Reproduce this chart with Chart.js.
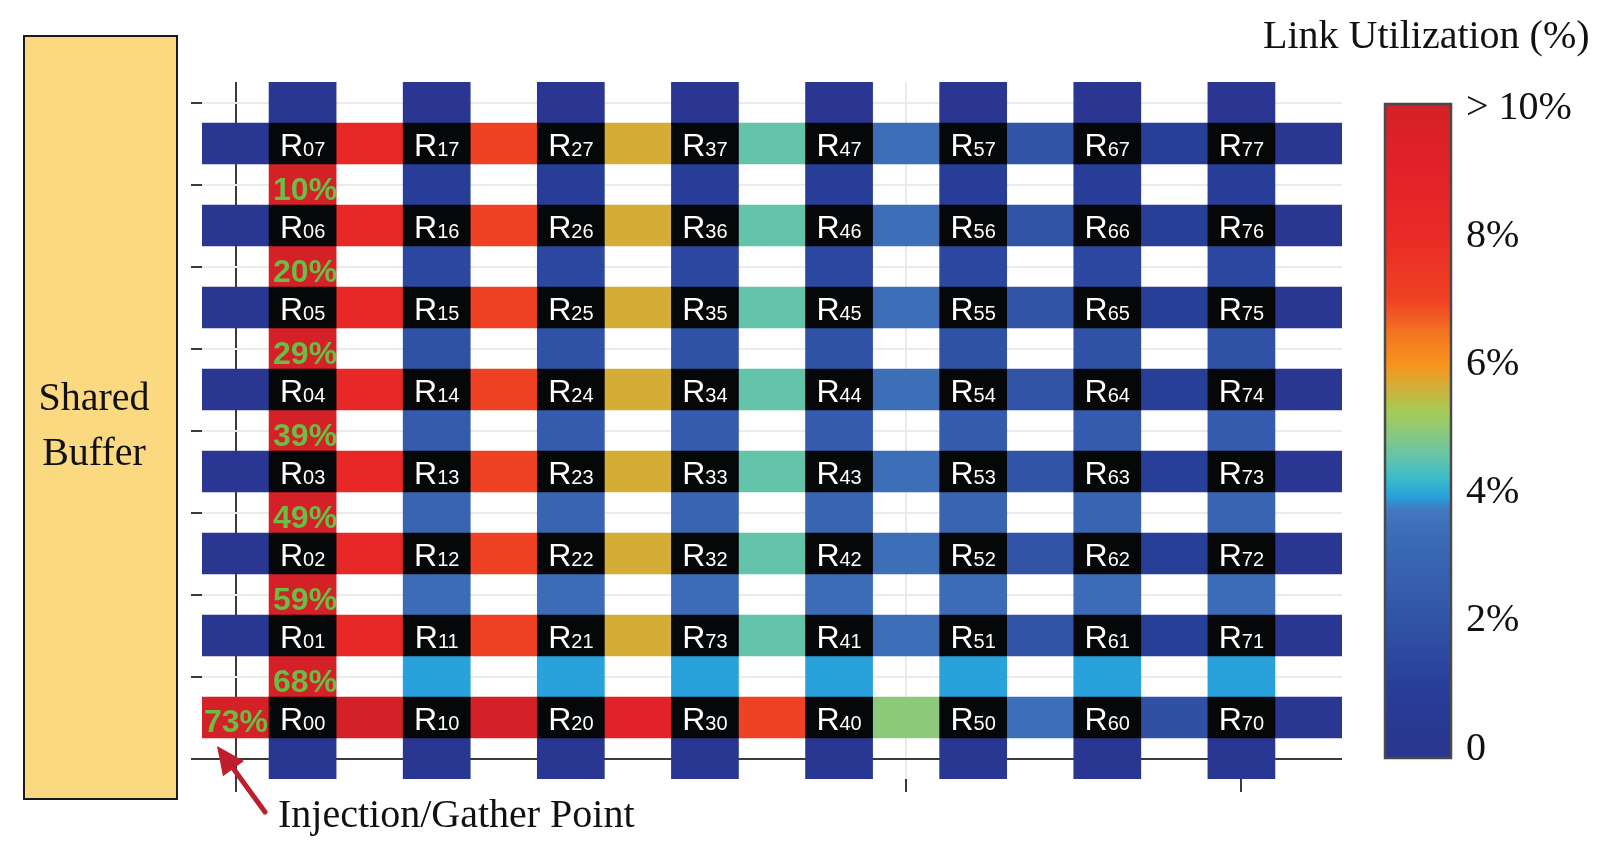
<!DOCTYPE html>
<html>
<head>
<meta charset="utf-8">
<script src="https://cdn.jsdelivr.net/npm/chart.js@4.4.1/dist/chart.umd.min.js"></script>
<style>
html,body{margin:0;padding:0;background:#ffffff;}
#wrap{width:1621px;height:853px;position:relative;}
</style>
</head>
<body>
<div id="wrap"><canvas id="c"></canvas></div>
<script>
// ---------------- data ----------------
const columns = [0, 1, 2, 3, 4, 5, 6, 7];
const rows = [0, 1, 2, 3, 4, 5, 6, 7];

// router names, row 0 (bottom) first, columns 0..7
const routerNames = [
  ['00', '10', '20', '30', '40', '50', '60', '70'],
  ['01', '11', '21', '73', '41', '51', '61', '71'],
  ['02', '12', '22', '32', '42', '52', '62', '72'],
  ['03', '13', '23', '33', '43', '53', '63', '73'],
  ['04', '14', '24', '34', '44', '54', '64', '74'],
  ['05', '15', '25', '35', '45', '55', '65', '75'],
  ['06', '16', '26', '36', '46', '56', '66', '76'],
  ['07', '17', '27', '37', '47', '57', '67', '77']
];

// horizontal link utilization (%) per row; 9 segments: left of col0, col0-1 ... col6-7, right of col7
const hLinkRow0 = [73, 14, 12, 9.0, 7.0, 5.0, 3.5, 1.9, 0.3];
const hLinkRow1 = [0.3, 8.3, 7.0, 5.7, 4.6, 3.5, 2.1, 1.1, 0.3];
const hLinkRow2 = [0.3, 8.3, 7.0, 5.7, 4.6, 3.5, 2.1, 1.1, 0.3];
const hLinkRow3 = [0.3, 8.3, 7.0, 5.7, 4.6, 3.5, 2.1, 1.1, 0.3];
const hLinkRow4 = [0.3, 8.3, 7.0, 5.7, 4.6, 3.5, 2.1, 1.1, 0.3];
const hLinkRow5 = [0.3, 8.3, 7.0, 5.7, 4.6, 3.5, 2.1, 1.1, 0.3];
const hLinkRow6 = [0.3, 8.3, 7.0, 5.7, 4.6, 3.5, 2.1, 1.1, 0.3];
const hLinkRow7 = [0.3, 8.3, 7.0, 5.7, 4.6, 3.5, 2.1, 1.1, 0.3];

// vertical link utilization (%) per column; 9 segments: below row0, row0-1 ... row6-7, above row7
const vLinkCol0 = [0.3, 68, 59, 49, 39, 29, 20, 10, 0.2];
const vLinkCol1 = [0.2, 4.0, 3.4, 3.0, 2.5, 2.0, 1.5, 1.0, 0.1];
const vLinkCol2 = [0.2, 4.0, 3.4, 3.0, 2.5, 2.0, 1.5, 1.0, 0.1];
const vLinkCol3 = [0.2, 4.0, 3.4, 3.0, 2.5, 2.0, 1.5, 1.0, 0.1];
const vLinkCol4 = [0.2, 4.0, 3.4, 3.0, 2.5, 2.0, 1.5, 1.0, 0.1];
const vLinkCol5 = [0.2, 4.0, 3.4, 3.0, 2.5, 2.0, 1.5, 1.0, 0.1];
const vLinkCol6 = [0.2, 4.0, 3.4, 3.0, 2.5, 2.0, 1.5, 1.0, 0.1];
const vLinkCol7 = [0.2, 4.0, 3.4, 3.0, 2.5, 2.0, 1.5, 1.0, 0.1];

const hLinks = [hLinkRow0, hLinkRow1, hLinkRow2, hLinkRow3, hLinkRow4, hLinkRow5, hLinkRow6, hLinkRow7];
const vLinks = [vLinkCol0, vLinkCol1, vLinkCol2, vLinkCol3, vLinkCol4, vLinkCol5, vLinkCol6, vLinkCol7];

// axis ticks
const xTicks = [-0.5, 4.5, 7];
const yTicks = [-0.5, 0.5, 1.5, 2.5, 3.5, 4.5, 5.5, 6.5, 7.5];

// colour scale
const cmapValues = [0, 1, 1.5, 2, 2.5, 3, 3.5, 3.8, 4, 4.3, 4.6, 5, 5.3, 5.7, 6, 6.5, 7, 8, 9, 10];
const cmapColors = ['#2a3590', '#273d98', '#2c47a0', '#3052a6', '#345bad', '#3864b2', '#3d6eb8', '#4279bf',
  '#29a2dc', '#3ebdc8', '#64c4aa', '#8dc97b', '#a6cb55', '#d4ad36', '#f7941d', '#f47421', '#ef4123',
  '#ea2a26', '#e2212a', '#d42127'];
const colorbarTicks = [0, 2, 4, 6, 8, 10];
const colorbarLabels = ['0', '2%', '4%', '6%', '8%', '> 10%'];

// ---------------- helpers ----------------
function hexToRgb(h) { return [parseInt(h.slice(1, 3), 16), parseInt(h.slice(3, 5), 16), parseInt(h.slice(5, 7), 16)]; }
function utilColor(v) {
  const lo = cmapValues[0], hi = cmapValues[cmapValues.length - 1];
  const t = Math.max(lo, Math.min(v, hi));
  for (let i = 1; i < cmapValues.length; i++) {
    if (t <= cmapValues[i]) {
      const a = cmapValues[i - 1], b = cmapValues[i];
      const f = (t - a) / (b - a);
      const c0 = hexToRgb(cmapColors[i - 1]), c1 = hexToRgb(cmapColors[i]);
      const c = c0.map((x, j) => Math.round(x + (c1[j] - x) * f));
      return 'rgb(' + c.join(',') + ')';
    }
  }
  return cmapColors[cmapColors.length - 1];
}

// ---------------- build library data ----------------
const routerData = [];
rows.forEach(r => columns.forEach(c => routerData.push({ x: c, y: [r - 0.25, r + 0.25], name: routerNames[r][c] })));

const vData = [];
columns.forEach(c => vLinks[c].forEach((v, k) => vData.push({ x: c, y: [k - 0.75, k - 0.25], v: v, gather: c === 0 && v >= 10 })));

const hData = [];
rows.forEach(r => hLinks[r].forEach((v, k) => hData.push({ y: r, x: [k - 0.75, k - 0.25], v: v, gather: r === 0 && k === 0 })));

const fillFn = ctx => (ctx.raw && ctx.raw.v !== undefined) ? utilColor(ctx.raw.v) : '#2a3590';

// ---------------- plugin ----------------
const SERIF = '"Liberation Serif", "Times New Roman", serif';
const SANS = '"Liberation Sans", Arial, Helvetica, sans-serif';

const overlay = {
  id: 'overlay',
  beforeDatasetsUpdate(chart) {
    const sx = chart.scales.x, sy = chart.scales.y;
    const ux = Math.abs(sx.getPixelForValue(1) - sx.getPixelForValue(0));
    const uy = Math.abs(sy.getPixelForValue(1) - sy.getPixelForValue(0));
    chart.data.datasets.forEach(ds => { ds.barThickness = 0.5 * (ds.indexAxis === 'y' ? uy : ux); });
  },
  afterDatasetsDraw(chart) {
    const ctx = chart.ctx;
    ctx.save();
    // router labels
    const rMeta = chart.getDatasetMeta(0);
    rMeta.data.forEach((el, i) => {
      const p = el.getProps(['x', 'y', 'base'], true);
      const cx = p.x, cy = (p.y + p.base) / 2;
      const name = routerData[i].name;
      ctx.fillStyle = '#ffffff';
      ctx.textBaseline = 'alphabetic';
      ctx.textAlign = 'left';
      ctx.font = '32px ' + SANS;
      const wR = ctx.measureText('R').width;
      ctx.font = '20px ' + SANS;
      const wN = ctx.measureText(name).width;
      const x0 = cx - (wR + wN) / 2;
      ctx.font = '32px ' + SANS;
      ctx.fillText('R', x0, cy + 12.5);
      ctx.font = '20px ' + SANS;
      ctx.fillText(name, x0 + wR, cy + 12.5);
    });
    // gather path percentages
    ctx.fillStyle = '#6abd45';
    ctx.font = 'bold 32px ' + SANS;
    ctx.textAlign = 'left';
    const vMeta = chart.getDatasetMeta(1);
    vMeta.data.forEach((el, i) => {
      if (!vData[i].gather) return;
      const p = el.getProps(['x', 'y', 'base', 'width'], true);
      const cy = (p.y + p.base) / 2;
      ctx.fillText(Math.round(vData[i].v) + '%', p.x - p.width / 2 + 4, cy + 15);
    });
    const hMeta = chart.getDatasetMeta(2);
    hMeta.data.forEach((el, i) => {
      if (!hData[i].gather) return;
      const p = el.getProps(['x', 'y', 'base'], true);
      ctx.fillText(Math.round(hData[i].v) + '%', Math.min(p.x, p.base) + 2, p.y + 14);
    });
    ctx.restore();
  },
  afterDraw(chart) {
    const ctx = chart.ctx;
    const sx = chart.scales.x, sy = chart.scales.y;
    ctx.save();
    // Shared buffer
    ctx.fillStyle = '#fad980';
    ctx.fillRect(24, 36, 153, 763);
    ctx.strokeStyle = '#1a1a1a';
    ctx.lineWidth = 2;
    ctx.strokeRect(24, 36, 153, 763);
    ctx.fillStyle = '#111111';
    ctx.font = '40px ' + SERIF;
    ctx.textAlign = 'center';
    ctx.textBaseline = 'alphabetic';
    ctx.fillText('Shared', 94, 410);
    ctx.fillText('Buffer', 94, 465);

    // title
    ctx.textAlign = 'left';
    ctx.fillText('Link Utilization (%)', 1263, 48);

    // arrow to injection point
    const tipX = sx.getPixelForValue(-0.75) + 15;
    const tipY = sy.getPixelForValue(-0.25) + 8;
    const tailX = 265, tailY = 812;
    const dx = tipX - tailX, dy = tipY - tailY;
    const len = Math.hypot(dx, dy);
    const ux = dx / len, uy = dy / len;
    const headL = 28, headW = 13;
    const bx = tipX - ux * headL, by = tipY - uy * headL;
    ctx.strokeStyle = '#be1e2d';
    ctx.fillStyle = '#be1e2d';
    ctx.lineWidth = 5;
    ctx.lineCap = 'round';
    ctx.beginPath();
    ctx.moveTo(tailX, tailY);
    ctx.lineTo(bx + ux * 4, by + uy * 4);
    ctx.stroke();
    ctx.beginPath();
    ctx.moveTo(tipX, tipY);
    ctx.lineTo(bx - uy * headW, by + ux * headW);
    ctx.lineTo(bx + uy * headW, by - ux * headW);
    ctx.closePath();
    ctx.fill();
    ctx.fillStyle = '#111111';
    ctx.font = '40px ' + SERIF;
    ctx.fillText('Injection/Gather Point', 278, 827);

    // colour bar
    const cbL = 1385, cbR = 1451, cbT = 104, cbB = 758;
    const grad = ctx.createLinearGradient(0, cbB, 0, cbT);
    const vmax = cmapValues[cmapValues.length - 1];
    cmapValues.forEach((v, i) => grad.addColorStop(v / vmax, cmapColors[i]));
    ctx.fillStyle = grad;
    ctx.fillRect(cbL, cbT, cbR - cbL, cbB - cbT);
    ctx.strokeStyle = '#4a4a4a';
    ctx.lineWidth = 2.5;
    ctx.strokeRect(cbL, cbT, cbR - cbL, cbB - cbT);
    ctx.fillStyle = '#111111';
    ctx.font = '40px ' + SERIF;
    ctx.textAlign = 'left';
    const labTop = 105, labBot = 746;
    colorbarTicks.forEach((v, i) => {
      const y = labBot - (labBot - labTop) * v / vmax;
      ctx.fillText(colorbarLabels[i], 1466, y + 13.5);
    });
    ctx.restore();
  }
};

// ---------------- chart ----------------
const gridColor = c => (c.tick && c.tick.value === -0.5) ? '#3b3b3b' : '#ebebeb';

new Chart(document.getElementById('c'), {
  type: 'bar',
  data: {
    datasets: [
      { label: 'routers', indexAxis: 'x', data: routerData, backgroundColor: '#050708', borderWidth: 0, grouped: false, barThickness: 67 },
      { label: 'vertical links', indexAxis: 'x', data: vData, backgroundColor: fillFn, borderWidth: 0, grouped: false, barThickness: 67 },
      { label: 'horizontal links', indexAxis: 'y', data: hData, backgroundColor: fillFn, borderWidth: 0, grouped: false, barThickness: 41 }
    ]
  },
  options: {
    responsive: true,
    maintainAspectRatio: false,
    animation: false,
    events: [],
    layout: { padding: { left: 189, right: 279, top: 82, bottom: 61 } },
    plugins: { legend: { display: false }, tooltip: { enabled: false }, title: { display: false } },
    scales: {
      x: {
        type: 'linear', min: -0.75, max: 7.75, offset: false,
        afterBuildTicks: s => { s.ticks = xTicks.map(v => ({ value: v })); },
        afterFit: s => { s.height = 13; },
        ticks: { display: false },
        border: { display: false },
        grid: { offset: false, color: gridColor, lineWidth: 2, drawTicks: true, tickLength: 13, tickColor: '#3b3b3b', tickWidth: 2 }
      },
      y: {
        type: 'linear', min: -0.75, max: 7.75, offset: false,
        afterBuildTicks: s => { s.ticks = yTicks.map(v => ({ value: v })); },
        afterFit: s => { s.width = 13; },
        ticks: { display: false },
        border: { display: false },
        grid: { offset: false, color: gridColor, lineWidth: 2, drawTicks: true, tickLength: 11, tickColor: '#3b3b3b', tickWidth: 2 }
      }
    }
  },
  plugins: [overlay]
});
</script>
</body>
</html>
